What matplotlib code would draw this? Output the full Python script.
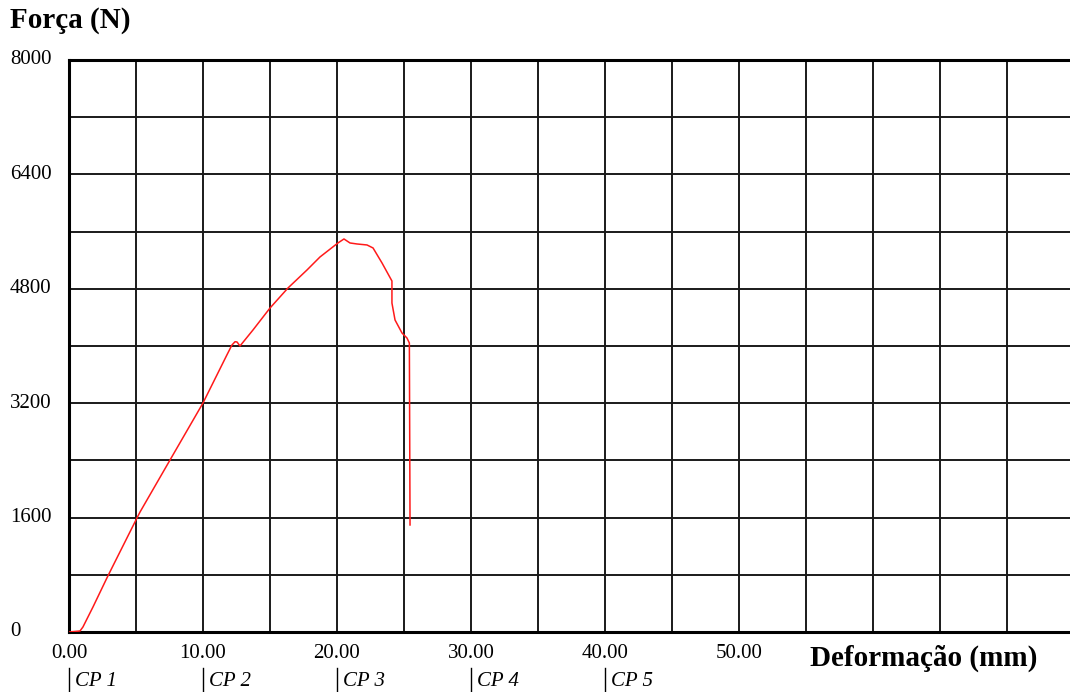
import numpy as np
import matplotlib.pyplot as plt
from matplotlib.transforms import blended_transform_factory

# curve: deformation (mm) vs force (N)
deform = [0.0, 0.82, 1.04, 1.79, 2.84, 3.28, 5.07, 5.30, 7.54, 10.0, 11.77, 12.16,
          12.39, 12.54, 12.76, 13.73, 15.0, 16.34, 17.76, 18.73, 20.07, 20.52,
          20.97, 21.49, 22.24, 22.69, 23.36, 24.10, 24.10, 24.33, 24.85, 25.22,
          25.40, 25.45]
force = [0, 14, 70, 350, 760, 925, 1594, 1678, 2406, 3203, 3870, 4014,
         4060, 4056, 4000, 4224, 4531, 4811, 5063, 5245, 5441, 5497,
         5441, 5427, 5413, 5371, 5161, 4909, 4601, 4364, 4182, 4112,
         4042, 1497]

y_labels = [0, 1600, 3200, 4800, 6400, 8000]
x_labels = [0, 10, 20, 30, 40, 50]
cp_pos = [0, 10, 20, 30, 40]
cp_names = ['CP 1', 'CP 2', 'CP 3', 'CP 4', 'CP 5']

W, H = 1070, 692
fig = plt.figure(figsize=(W / 100, H / 100), dpi=100)
serif = ['Liberation Serif', 'DejaVu Serif']

# axes runs a little past the right edge of the picture
ax = fig.add_axes([69 / W, 1 - 632 / H, (1074 - 69) / W, (632 - 60) / H])
ax.set_xlim(0, 75)
ax.set_ylim(0, 8000)

ax.set_xticks(np.arange(0, 76, 5))
ax.set_yticks(np.arange(0, 8001, 800))
ax.grid(True, color='#1a1a1a', lw=1.4)
ax.tick_params(length=0, labelbottom=False, labelleft=False)
for side in ['left', 'bottom', 'top']:
    ax.spines[side].set_linewidth(2.2)
ax.spines['right'].set_visible(False)

ax.plot(deform, force, color='#ff1a1a', lw=1.1, zorder=3)

# y labels, left aligned near the figure edge
ty = blended_transform_factory(fig.transFigure, ax.transData)
for v in y_labels:
    ax.text(10 / W, v, str(v), transform=ty, ha='left', va='center',
            fontsize=15, family=serif, clip_on=False)

# x labels
tx = blended_transform_factory(ax.transData, fig.transFigure)
for v in x_labels:
    ax.text(v, 1 - 653 / H, '%.2f' % v, transform=tx, ha='center', va='center',
            fontsize=15, family=serif, clip_on=False)

# CP markers under the axis
for p, name in zip(cp_pos, cp_names):
    ax.plot([p, p], [1 - 668 / H, 1 - 692 / H], transform=tx, color='black',
            lw=1.0, clip_on=False)
    ax.text(p + 0.45, 1 - 681 / H, name, transform=tx, ha='left', va='center',
            fontsize=15, style='italic', family=serif, clip_on=False)

fig.text(10 / W, 1 - 20 / H, 'Força (N)', ha='left', va='center',
         fontsize=21, weight='bold', family=serif)
fig.text(810 / W, 1 - 658 / H, 'Deformação (mm)', ha='left', va='center',
         fontsize=21, weight='bold', family=serif)

fig.savefig('out.png', dpi=100)
